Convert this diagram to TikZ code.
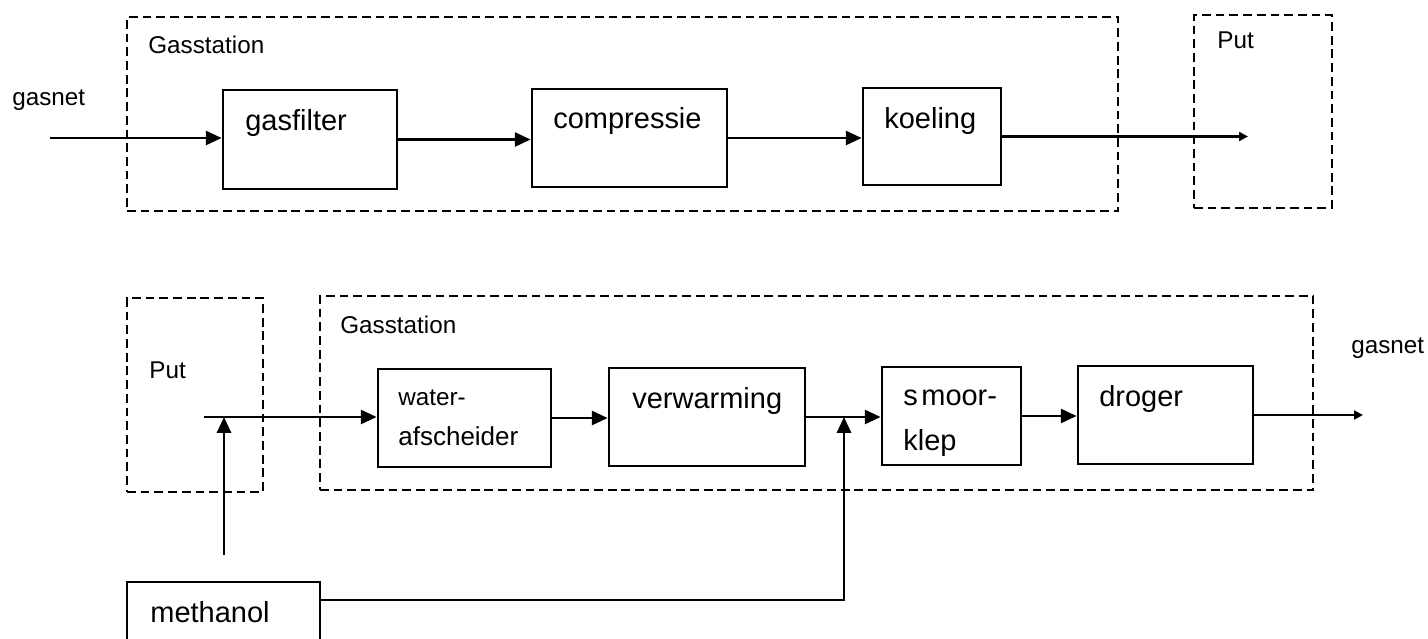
\documentclass[tikz,border=0pt]{standalone}
\usepackage{fontspec}
\setmainfont{Liberation Sans}
\usetikzlibrary{arrows.meta,fit}
\begin{document}
\begin{tikzpicture}[x=0.02cm,y=-0.02cm,
  box/.style={draw, line width=1.6pt, inner sep=0pt},
  group/.style={draw, line width=1.5pt, dash pattern=on 5pt off 2.8pt, inner sep=0pt},
  bigtext/.style={font=\fontsize{16.5}{19}\selectfont, anchor=base west, inner sep=0pt},
  midtext/.style={font=\fontsize{14.8}{17}\selectfont, anchor=base west, inner sep=0pt},
  smalltext/.style={font=\fontsize{13.8}{16}\selectfont, anchor=base west, inner sep=0pt},
  flow/.style={line width=1.5pt, -{Triangle[length=9pt,width=8pt]}},
  endflow/.style={line width=1.5pt, -{Triangle[length=5pt,width=5pt]}},
]
\useasboundingbox (0,0) rectangle (1428,639);

% ---------- top row ----------
\node[group, fit={(127,17)(1118,211)}] (gs1) {};
\node[group, fit={(1194,15)(1332,208)}] (put1) {};
\node[smalltext] (gs1t) at (148,53) {Gasstation};
\node[smalltext] (put1t) at (1217,49) {Put};
\node[smalltext] (net1) at (12,105) {gasnet};

\node[box, fit={(223,90)(397,189)}] (gf) {};
\node[box, fit={(532,89)(727,187)}] (cp) {};
\node[box, fit={(863,88)(1001,185)}] (kl) {};
\node[bigtext] (gft) at (245,130) {gasfilter};
\node[bigtext] (cpt) at (553,128) {compressie};
\node[bigtext] (klt) at (884,128) {koeling};

\coordinate (in1) at (50,138);
\coordinate (out1) at (1248,135);
\draw[flow] (in1) -- (in1 -| gf.west);
\draw[flow] (gf.east) -- (gf.east -| cp.west);
\draw[flow] (cp.east) -- (cp.east -| kl.west);
\draw[endflow] (kl.east) -- (kl.east -| out1);

% ---------- bottom row ----------
\node[group, fit={(127,298)(263,492)}] (put2) {};
\node[group, fit={(320,296)(1313,490)}] (gs2) {};
\node[smalltext] (put2t) at (149,378) {Put};
\node[smalltext] (gs2t) at (340,333) {Gasstation};
\node[smalltext] (net2) at (1351,353) {gasnet};

\node[box, fit={(378,369)(551,467)}] (wa) {};
\node[box, fit={(609,368)(805,466)}] (vw) {};
\node[box, fit={(882,367)(1021,465)}] (sk) {};
\node[box, fit={(1078,366)(1253,464)}] (dr) {};
\node[box, fit={(127,582)(320,680)}] (me) {};

\node[smalltext] (wat1) at (398,405) {water-};
\node[midtext] (wat2) at (398,445) {afscheider};
\node[bigtext] (vwt) at (632,408) {verwarming};
\node[bigtext] (skt1) at (903,405) {s\kern2pt moor-};
\node[bigtext] (skt2) at (903,450) {klep};
\node[bigtext] (drt) at (1099,406) {droger};
\node[bigtext] (met) at (150,622) {methanol};

\coordinate (src) at (204,417);
\coordinate (out2) at (1363,414);
\coordinate (m1) at (224,555);
\coordinate (jb) at (844,600);

\draw[flow] (src) -- (src -| wa.west);
\draw[flow] (wa.east) -- (wa.east -| vw.west);
\draw[flow] (vw.east) -- (vw.east -| sk.west);
\draw[flow] (sk.east) -- (sk.east -| dr.west);
\draw[endflow] (dr.east) -- (dr.east -| out2);
\draw[flow] (m1) -- (m1 |- src);
\draw[flow] (me.east |- jb) -- (jb) -- (jb |- vw.east);
\end{tikzpicture}
\end{document}
